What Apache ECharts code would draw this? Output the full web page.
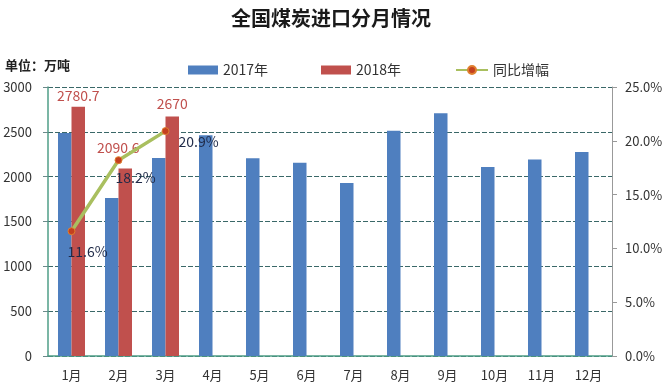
<!DOCTYPE html>
<html><head><meta charset="utf-8">
<script src="https://cdn.jsdelivr.net/npm/echarts@6/dist/echarts.min.js"></script>
<style>html,body{margin:0;padding:0;background:#fff}#c{width:670px;height:385px}</style>
</head><body><div id="c"></div>
<script>
var months = ['1月','2月','3月','4月','5月','6月','7月','8月','9月','10月','11月','12月'];
var imports2017 = [2487, 1763, 2207, 2462, 2206, 2155, 1928, 2513, 2706, 2108, 2191, 2275];
var imports2018 = [2780.7, 2090.6, 2670, null, null, null, null, null, null, null, null, null];
var growthPct = [11.6, 18.2, 20.9, null, null, null, null, null, null, null, null, null];
var leftTicks = [0, 3000, 500];
var rightTicks = [0, 25, 5];

var FONT = '"Noto Sans CJK SC", "Noto Sans", sans-serif';
var barLabelOffsets = [[0, 0], [-7, -10], [0, -2]];
var lineLabelOffsets = [[16, 21], [17, 18], [33, 11]];

var chart = echarts.init(document.getElementById('c'), null, {renderer: 'canvas'});
var option = {
  animation: false,
  backgroundColor: '#fff',
  textStyle: {fontFamily: FONT},
  title: {
    text: '全国煤炭进口分月情况', left: 226, top: 3,
    textStyle: {fontSize: 20, fontWeight: 'bold', color: '#1a1a1a', fontFamily: FONT}
  },
  graphic: [{
    type: 'text', left: 5, top: 59,
    style: {text: '单位：万吨', font: 'bold 13px ' + FONT, fill: '#222'}
  }],
  legend: [
    {data: [{name: '2017年', icon: 'rect'}], left: 183, top: 58, itemWidth: 30, itemHeight: 9, itemGap: 3,
     textStyle: {fontSize: 14, color: '#333', fontFamily: FONT}},
    {data: [{name: '2018年', icon: 'rect'}], left: 316, top: 58, itemWidth: 30, itemHeight: 9,
     textStyle: {fontSize: 14, color: '#333', fontFamily: FONT}},
    {data: ['同比增幅'], left: 450, top: 58, itemWidth: 32, itemHeight: 10,
     textStyle: {fontSize: 14, color: '#333', fontFamily: FONT}}
  ],
  grid: {left: 48, right: 58, top: 87, bottom: 29, containLabel: false},
  xAxis: {
    type: 'category', data: months,
    axisLine: {lineStyle: {color: '#4f9e87', width: 1.5}},
    axisTick: {show: false},
    axisLabel: {fontSize: 13, color: '#333', margin: 13, fontFamily: FONT}
  },
  yAxis: [{
    type: 'value', min: leftTicks[0], max: leftTicks[1], interval: leftTicks[2],
    axisLine: {show: true, lineStyle: {color: '#4f9e87', width: 1.5}},
    axisTick: {show: true, length: 5, lineStyle: {color: '#6a8a8a'}},
    axisLabel: {fontSize: 13, color: '#333', margin: 16, fontFamily: FONT,
      formatter: function (v) { return String(v); }},
    splitLine: {show: true, lineStyle: {color: '#3a6868', type: [5, 2], width: 1}}
  }, {
    type: 'value', min: rightTicks[0], max: rightTicks[1], interval: rightTicks[2],
    axisLine: {show: true, lineStyle: {color: '#999', width: 1}},
    axisTick: {show: true, length: 5, lineStyle: {color: '#999'}},
    axisLabel: {fontSize: 13, color: '#333', margin: 13, fontFamily: FONT,
      formatter: function (v) { return v.toFixed(1) + '%'; }},
    splitLine: {show: false}
  }],
  series: [{
    name: '2017年', type: 'bar', data: imports2017,
    barWidth: 13.5, barGap: '0%',
    itemStyle: {color: '#4f7fbf'}
  }, {
    name: '2018年', type: 'bar', data: imports2018.map(function (v, i) {
      var o = barLabelOffsets[i];
      return o ? {value: v, label: {offset: o}} : v;
    }),
    barWidth: 13.5, barGap: '0%',
    itemStyle: {color: '#c0504d'},
    label: {show: true, position: 'top', distance: 4, color: '#c0504d', fontSize: 14, fontFamily: FONT}
  }, {
    name: '同比增幅', type: 'line', yAxisIndex: 1,
    data: growthPct.map(function (v, i) {
      var o = lineLabelOffsets[i];
      return o ? {value: v, label: {offset: o}} : v;
    }),
    symbol: 'circle', symbolSize: 7,
    lineStyle: {color: '#a9bf5f', width: 3.5},
    itemStyle: {color: '#c4401f', borderColor: '#e08030', borderWidth: 1},
    label: {show: true, position: 'inside', color: '#1f2a48', fontSize: 14, fontFamily: FONT,
      formatter: function (p) { return p.value.toFixed(1) + '%'; }},
    z: 5
  }]
};
chart.setOption(option);
</script>
</body></html>
